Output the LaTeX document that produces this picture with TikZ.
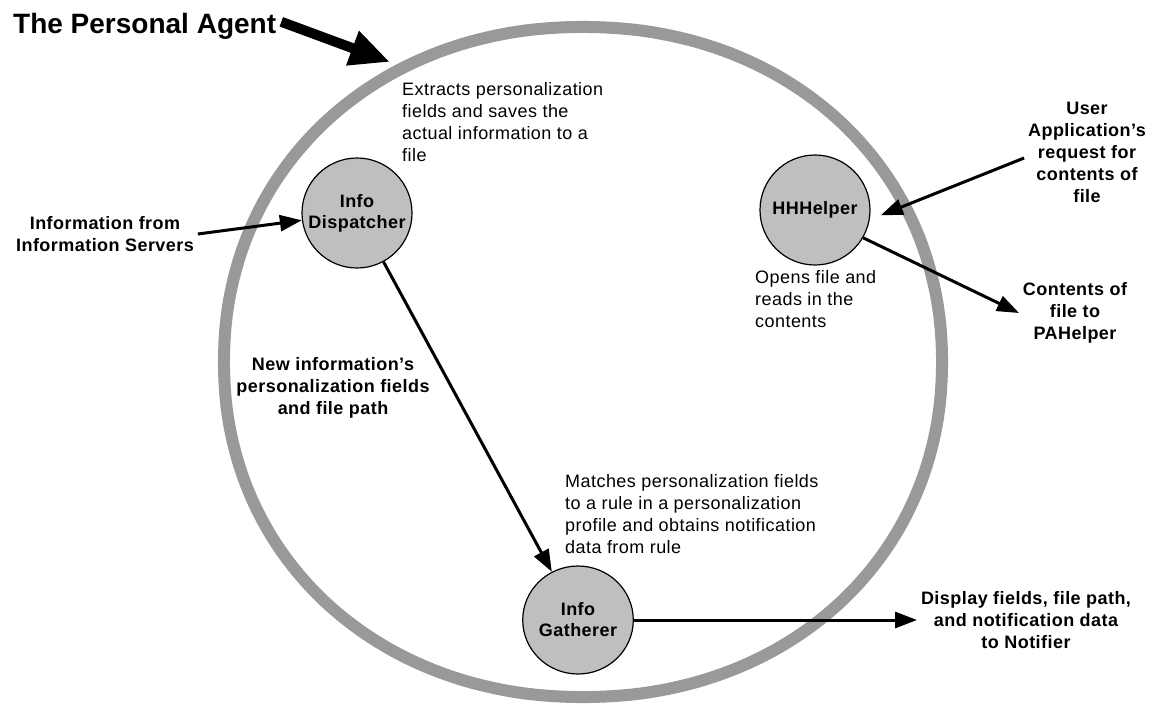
\documentclass[tikz,border=0pt]{standalone}
\usepackage{fontspec}
\setmainfont{Liberation Sans}
\newfontfamily\pafont{Liberation Sans}[LetterSpace=2.5,Ligatures=TeX]
\usetikzlibrary{arrows.meta,shapes.geometric}
\tikzset{
  bubble/.style={draw=black, line width=1.2pt, fill=black!25, font=\pafont\fontsize{18}{21}\selectfont\bfseries, align=center, inner sep=0pt},
  tag/.style={font=\pafont\fontsize{18}{22}\selectfont\bfseries, align=center, inner sep=0pt, outer sep=4pt},
  note/.style={font=\pafont\fontsize{18}{22}\selectfont, align=left, inner sep=0pt, anchor=north west},
  link/.style={line width=3pt, -{Triangle[length=22pt,width=16pt]}},
}

\begin{document}
\begin{tikzpicture}[x=1pt,y=-1pt]
		%%%%% START %%%%%
		\useasboundingbox (0,0) rectangle (1153,704);
		
		% the agent's border
		\draw[line width=12pt, color=black!40] plot[smooth cycle, domain=1:359, samples=180, variable=\t]
			({583+359*sign(cos(\t))*abs(cos(\t))^0.96}, {362-335*sign(sin(\t))*abs(sin(\t))^0.96});
		
		\node[font=\fontsize{28}{30}\selectfont\bfseries, anchor=base west, inner sep=0pt] (title) at (13,33) {The Personal Agent};
		\coordinate (pa) at (390,62);
		\draw[line width=10pt, -{Triangle[length=40pt,width=34pt]}] ([shift={(5pt,4pt)}]title.east) -- (pa);
		
		\node[bubble, circle, minimum size=110pt] (disp) at (357,213) {Info\\Dispatcher};
		\node[bubble, circle, minimum size=110pt] (hh) at (815,210) {HHHelper};
		\node[bubble, ellipse, minimum width=100pt, minimum height=108pt] (gath) at (578,620) {Info\\Gatherer};
		
		\node[note] (extr) at (402,82) {Extracts personalization\\fields and saves the\\actual information to a\\file};
		\node[note] (opens) at (755,270) {Opens file and\\reads in the\\contents};
		\node[note] (match) at (565,474) {Matches personalization fields\\to a rule in a personalization\\profile and obtains notification\\data from rule};
		
		\node[tag] (srv) at (105,234) {Information from\\Information Servers};
		\node[tag] (usr) at (1087,152) {User\\Application’s\\request for\\contents of\\file};
		\node[tag] (cont) at (1075,313) {Contents of\\file to\\PAHelper};
		\node[tag] (newinfo) at (333,388) {New information’s\\personalization fields\\and file path};
		\node[tag] (notif) at (1026,620) {Display fields, file path,\\and notification data\\to Notifier};
		
		\draw[link] (srv.east) -- (disp);
		\draw[link, shorten >=12pt] ([yshift=-6pt]usr.west) -- (hh.-10);
		\draw[link] (hh.-30) -- (cont.west);
		\draw[link] (disp) -- (gath);
		\draw[link] (gath) -- (notif.west);
		
		%%%%% END %%%%%
\end{tikzpicture}
\end{document}
